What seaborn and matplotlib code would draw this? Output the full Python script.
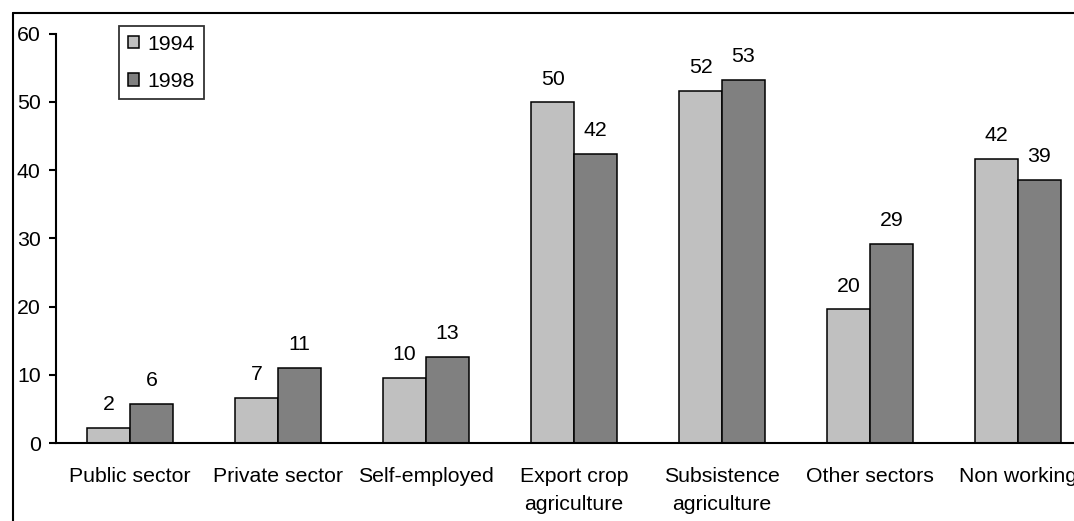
import pandas as pd
import numpy as np
import matplotlib
matplotlib.use("Agg")
import matplotlib.pyplot as plt
import seaborn as sns
from matplotlib.lines import Line2D
from matplotlib.patches import Patch

# Values (percent)
sectors = ["Public sector", "Private sector", "Self-employed",
           "Export crop\nagriculture", "Subsistence\nagriculture",
           "Other sectors", "Non working"]
years = ["1994", "1998"]
vals_1994 = [2.2, 6.6, 9.6, 49.9, 51.6, 19.6, 41.6]
vals_1998 = [5.8, 11.0, 12.6, 42.4, 53.2, 29.2, 38.6]
yticks = [0, 10, 20, 30, 40, 50, 60]

df = pd.DataFrame({
    "sector": sectors * 2,
    "year": [years[0]] * len(sectors) + [years[1]] * len(sectors),
    "pct": vals_1994 + vals_1998,
})

sns.set_style("ticks")
plt.rcParams["font.family"] = ["Liberation Sans", "DejaVu Sans"]
plt.rcParams["text.color"] = "black"
plt.rcParams["xtick.color"] = "black"
plt.rcParams["ytick.color"] = "black"
fs = 15.3
colors = ["#c0c0c0", "#808080"]

W, H = 1074, 521
fig = plt.figure(figsize=(W / 100, H / 100), dpi=100)
# axes runs past the right edge, like the cropped original
ax = fig.add_axes([56 / W, 77.7 / H, 1036 / W, 409.8 / H])

sns.barplot(data=df, x="sector", y="pct", hue="year", palette=colors,
            width=0.58, gap=0, edgecolor="black", linewidth=1.1,
            saturation=1, legend=False, ax=ax)

for cont in ax.containers:
    ax.bar_label(cont, fmt="%.0f", padding=10, fontsize=fs, color="black")

ax.set_xlim(-0.5, 6.5)
ax.set_ylim(0, 60)
ax.set_yticks(yticks)
ax.set_xlabel("")
ax.set_ylabel("")
for s in ["top", "right"]:
    ax.spines[s].set_visible(False)
for s in ["left", "bottom"]:
    ax.spines[s].set_linewidth(1.5)
    ax.spines[s].set_color("black")
ax.tick_params(axis="y", length=5, width=1.5, pad=6, labelsize=fs)
ax.tick_params(axis="x", length=0, pad=17, labelsize=fs)
for lab in ax.get_xticklabels():
    lab.set_linespacing(1.6)

# legend box in the top-left corner
handles = [Patch(facecolor=c, edgecolor="black", linewidth=1.1) for c in colors]
leg = fig.legend(handles, years, loc="upper left",
                 bbox_to_anchor=(119 / W, 1 - 26 / H), borderaxespad=0,
                 fontsize=fs, frameon=True, fancybox=False,
                 handlelength=0.55, handleheight=0.55, handletextpad=0.4,
                 labelspacing=0.86, borderpad=0.4)
leg.get_frame().set_edgecolor("black")
leg.get_frame().set_linewidth(1.3)

# chart area border (only top and left remain inside the crop)
fig.add_artist(Line2D([13 / W, 1.2], [1 - 13 / H, 1 - 13 / H],
                      transform=fig.transFigure, color="black", lw=1.5))
fig.add_artist(Line2D([13 / W, 13 / W], [1 - 13 / H, -0.2],
                      transform=fig.transFigure, color="black", lw=1.5))

fig.savefig("out.png", dpi=100)
